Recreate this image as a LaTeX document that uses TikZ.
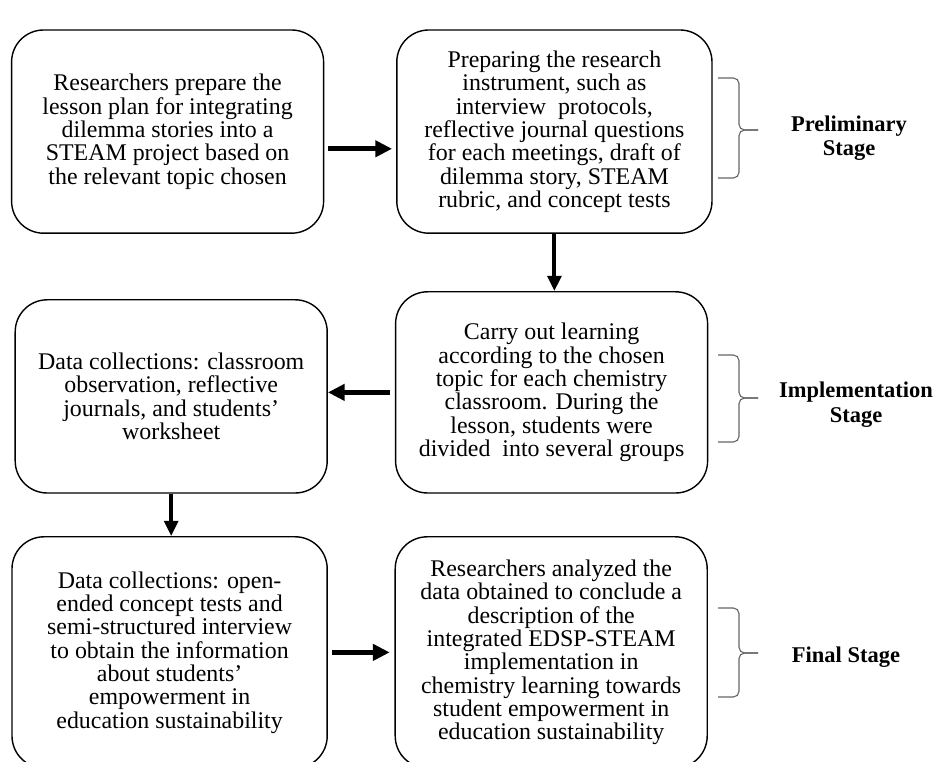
\documentclass[tikz,border=0pt]{standalone}
\usepackage{fontspec}
\setmainfont{Liberation Serif}
\usetikzlibrary{positioning, calc, arrows.meta}

\begin{document}
\begin{tikzpicture}[
        stepbox/.style={
          align=center, draw, line width=1pt, rounded corners=.8cm,
          minimum width=7.8cm, font=\fontsize{17}{16.6}\selectfont
        },
        stage/.style={
          align=center, font=\fontsize{16}{17.5}\selectfont\bfseries
        },
        fat/.style={
          line width=3.5pt, -{Triangle[length=.42cm, width=.4cm]}
        },
        down/.style={
          line width=2.8pt, -{Triangle[length=.38cm, width=.34cm]}
        },
        bracket/.style={
          draw=black!60, line width=.8pt, rounded corners=4pt
        },
      ]
        \useasboundingbox (0,0) rectangle (23.425,19.05);
        \clip (0,0) rectangle (23.425,19.05);

        % Preliminary row
        \node [stepbox, minimum height=5.08cm] (prep) at (4.19,15.76) {Researchers prepare the\\lesson plan for integrating\\dilemma stories into a\\STEAM project based on\\the relevant topic chosen};
        \node [stepbox, minimum width=7.88cm, minimum height=5.08cm] (instr) at (13.86,15.76) {Preparing the research\\instrument, such as\\interview\ \ protocols,\\reflective journal questions\\for each meetings, draft of\\dilemma story, STEAM\\rubric, and concept tests};

        % Implementation row
        \node [stepbox, minimum height=5.03cm] (learn) at (13.79,9.24) {Carry out learning\\according to the chosen\\topic for each chemistry\\classroom. During the\\lesson, students were\\divided\ \ into several groups};
        \node [stepbox, minimum height=4.83cm] (observe) at (4.28,9.14) {Data collections: classroom\\observation, reflective\\journals, and students'\\worksheet};

        % Final row
        \node [stepbox, minimum width=7.88cm, minimum height=5.78cm] (tests) at (4.24,2.74) {Data collections: open-\\ended concept tests and\\semi-structured interview\\to obtain the information\\about students'\\empowerment in\\education sustainability};
        \node [stepbox, minimum height=5.78cm] (analysis) at (13.78,2.74) {Researchers analyzed the\\data obtained to conclude a\\description of the\\integrated EDSP-STEAM\\implementation in\\chemistry learning towards\\student empowerment in\\education sustainability};

        % Flow
        \draw [fat, shorten <=.1cm, shorten >=.1cm] ([yshift=-.43cm]prep.east) -- ([yshift=-.43cm]instr.west);
        \draw [down] (instr.south) -- (instr.south |- learn.north);
        \draw [fat, shorten <=.12cm] (learn.west) -- (learn.west -| observe.east);
        \draw [down] (observe.south) -- (observe.south |- tests.north);
        \draw [fat, shorten <=.1cm, shorten >=.12cm] (tests.east) -- (analysis.west);

        % Stage braces
        \draw [bracket] (17.95,17.10) -| (18.475,15.80) -- (18.95,15.80);
        \draw [bracket] (18.95,15.80) -- (18.475,15.80) |- (17.95,14.60);
        \draw [bracket] (17.95,10.175) -| (18.475,9.10) -- (18.95,9.10);
        \draw [bracket] (18.95,9.10) -- (18.475,9.10) |- (17.95,8.00);
        \draw [bracket] (17.95,3.85) -| (18.475,2.725) -- (18.95,2.725);
        \draw [bracket] (18.95,2.725) -- (18.475,2.725) |- (17.95,1.625);

        % Stage labels
        \node [stage] (prelim) at (21.225,15.6) {Preliminary\\Stage};
        \node [stage] (implem) at (21.4,8.93) {Implementation\\Stage};
        \node [stage] (final) at (21.15,2.625) {Final Stage};

      \end{tikzpicture}
\end{document}
